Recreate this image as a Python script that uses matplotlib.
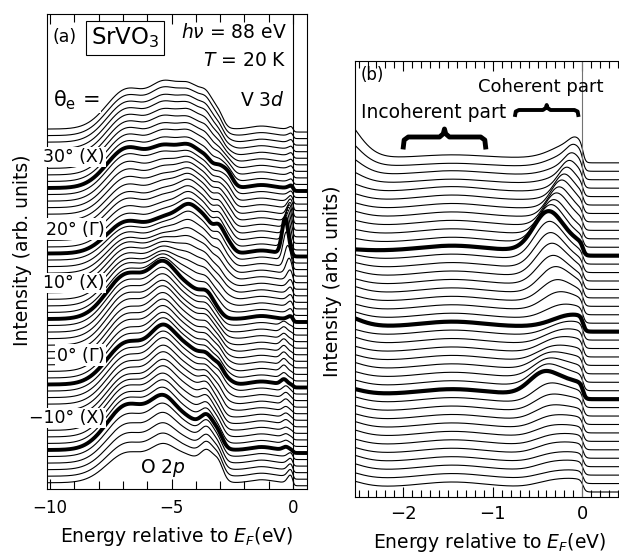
import numpy as np
import matplotlib.pyplot as plt
from matplotlib.ticker import MultipleLocator

plt.rcParams['font.family'] = ['DejaVu Sans']
plt.rcParams['mathtext.fontset'] = 'dejavusans'

# ---------------- panel (a): SrVO3 wide EDCs, theta_e = -15 .. 39 deg ----------------
theta_a = list(range(-15, 40))
thick_a = [30, 20, 10, 0, -10]
# heights (px) of the O 2p sub-bands at -6.8, -5.3, -4.2, -3.5, -3.05, -2.7 eV
amp_o1 = [30, 33, 36, 39, 42, 45, 45, 44, 44, 43, 42, 42, 42, 42, 42,
          42, 43, 43, 44, 44, 44, 45, 45, 45, 45, 45, 43, 42, 40, 39,
          38, 37, 35, 34, 33, 32, 33, 34, 35, 35, 36, 37, 38, 39, 40,
          40, 40, 40, 40, 40, 40, 40, 40, 40, 40]
amp_o2 = [30, 33, 36, 39, 41, 42, 43, 44, 44, 45, 45, 46, 46, 47, 47,
          47, 47, 46, 46, 46, 46, 46, 45, 45, 45, 45, 42, 39, 36, 34,
          32, 30, 28, 27, 26, 25, 26, 26, 27, 27, 28, 28, 29, 29, 30,
          30, 31, 32, 32, 33, 33, 34, 34, 35, 35]
amp_o3 = [22, 23, 24, 25, 25, 25, 26, 27, 28, 29, 30, 30, 30, 30, 30,
          30, 30, 29, 29, 28, 28, 28, 27, 27, 26, 26, 28, 30, 32, 34,
          36, 38, 40, 42, 44, 45, 44, 44, 43, 43, 42, 41, 40, 39, 38,
          38, 38, 39, 39, 39, 40, 40, 40, 40, 40]
amp_o4 = [22, 23, 23, 24, 24, 23, 22, 21, 21, 20, 20, 19, 18, 17, 16,
          16, 16, 16, 16, 16, 16, 16, 15, 15, 15, 15, 15, 14, 14, 14,
          14, 14, 13, 13, 12, 12, 12, 12, 12, 12, 12, 12, 12, 12, 12,
          12, 13, 14, 15, 16, 16, 17, 17, 18, 18]
amp_o5 = [14, 13, 12, 11, 10, 10, 9, 9, 8, 8, 8, 9, 10, 11, 12,
          12, 11, 10, 10, 9, 8, 7, 6, 5, 4, 3, 5, 6, 8, 9,
          10, 12, 14, 16, 17, 18, 18, 17, 17, 16, 16, 15, 14, 13, 12,
          12, 12, 12, 11, 11, 11, 10, 10, 10, 10]
amp_o6 = [0, 0, 0, 0, 0, 0, 0, 0, 0, 0, 0, 1, 2, 3, 4,
          4, 4, 3, 3, 2, 2, 1, 1, 0, 0, 0, 1, 2, 3, 4,
          4, 6, 7, 8, 9, 10, 10, 11, 11, 11, 12, 12, 13, 13, 14,
          14, 12, 10, 8, 6, 4, 3, 2, 1, 0]
# V 3d coherent peak: height (px) and energy (eV)
amp_v3d = [8, 7, 6, 5, 4, 3, 3, 3, 3, 4, 4, 4, 5, 5, 5,
           5, 5, 6, 6, 6, 6, 6, 5, 5, 4, 3, 4, 5, 5, 6,
           7, 10, 15, 21, 28, 35, 32, 28, 24, 20, 16, 12, 9, 6, 4,
           3, 3, 3, 3, 3, 3, 3, 3, 3, 3]
pos_v3d = [-0.1, -0.1, -0.1, -0.1, -0.1, -0.3, -0.3, -0.3, -0.3, -0.3, -0.3, -0.3, -0.3, -0.3, -0.3,
           -0.38, -0.38, -0.38, -0.38, -0.38, -0.38, -0.38, -0.38, -0.38, -0.38, -0.1, -0.1, -0.1, -0.1, -0.1,
           -0.1, -0.12, -0.16, -0.22, -0.28, -0.33, -0.3, -0.26, -0.22, -0.18, -0.15, -0.12, -0.1, -0.08, -0.06,
           -0.05, -0.05, -0.05, -0.05, -0.05, -0.05, -0.05, -0.05, -0.05, -0.05]
o2p_pos = [-6.8, -5.3, -4.2, -3.5, -3.05, -2.7]
o2p_wid = [0.85, 0.55, 0.55, 0.28, 0.2, 0.22]

# ---------------- panel (b): near-E_F EDCs, 40 spectra ----------------
n_b = 40
thick_b = [11, 19, 28]
amp_left = [9, 9, 10, 10, 9, 9, 10, 10, 9, 9, 9, 8, 9, 9, 10, 9, 9, 10, 9, 13,
            10, 9, 9, 10, 9, 9, 8, 7, 2, 6, 7, 8, 9, 9, 10, 12, 17, 24, 33, 45]
amp_inc = [5] * 36 + [4, 4, 3, 3]
amp_coh = [3, 3, 4, 4, 5, 5, 6, 7, 9, 11, 14, 19, 17, 14, 11, 8, 6, 4, 2, 0,
           5, 10, 15, 20, 24, 28, 31, 34, 36, 34, 30, 27, 24, 21, 18, 15, 12, 10, 8, 6]
pos_coh = [-0.4] * 11 + [-0.44, -0.42, -0.41, -0.4, -0.38, -0.36, -0.34, -0.32, -0.3,
           -0.3, -0.31, -0.32, -0.33, -0.35, -0.36, -0.37, -0.38, -0.39,
           -0.36, -0.33, -0.30, -0.27, -0.24, -0.21, -0.18, -0.15, -0.12, -0.10, -0.08]
wid_coh = [0.16] * 29 + [0.15, 0.14, 0.13, 0.12, 0.11, 0.10, 0.09, 0.085, 0.08, 0.075, 0.07]
amp_ef = [8, 8, 9, 9, 10, 10, 10, 11, 11, 12, 12, 12, 12, 12, 12, 12, 13, 13, 13, 12,
          11, 11, 10, 10, 9, 9, 8, 8, 8, 7, 7, 8, 8, 9, 9, 10, 11, 12, 14, 15]


def gauss(e, c, w):
    return np.exp(-(e - c) ** 2 / (2 * w ** 2))


def fermi(e, w, mu=0.0):
    return 1.0 / (1.0 + np.exp((e - mu) / w))


def brace(ax, x0, x1, y, h, hc, lw):
    w = x1 - x0
    xm = (x0 + x1) / 2
    xs = [x0, x0 + 0.01 * w, x0 + 0.06 * w, xm - 0.06 * w, xm - 0.015 * w, xm,
          xm + 0.015 * w, xm + 0.06 * w, x1 - 0.06 * w, x1 - 0.01 * w, x1]
    ys = [y - h, y - 0.3 * h, y, y, y + 0.4 * hc, y + hc, y + 0.4 * hc, y, y, y - 0.3 * h, y - h]
    ax.plot(xs, ys, color='k', lw=lw, solid_joinstyle='round', clip_on=False, zorder=5)


fig = plt.figure(figsize=(6.19, 5.56), dpi=100)
fs = 13.5

# ---------- (a) ----------
ax1 = fig.add_axes([47 / 619, 1 - 489 / 556, 260 / 619, 475 / 556])
e_a = np.linspace(-10.2, 0.7, 1500)
for k, th in enumerate(theta_a):
    off = 36 + (th + 10) * 6.55
    amps = [amp_o1[k], amp_o2[k], amp_o3[k], amp_o4[k], amp_o5[k], amp_o6[k]]
    spec = sum(a * gauss(e_a, c, w) for a, c, w in zip(amps, o2p_pos, o2p_wid))
    spec = spec + (3 + 3 * gauss(e_a, -1.3, 0.45) + amp_v3d[k] * gauss(e_a, pos_v3d[k], 0.13)) * fermi(e_a, 0.035)
    if th in thick_a:
        ax1.plot(e_a, off + spec, color='k', lw=2.8, zorder=3)
    else:
        ax1.plot(e_a, off + spec, color='k', lw=0.8, zorder=2)
ax1.axvline(0, color='k', lw=0.8)
ax1.set_xlim(-10.12, 0.57)
ax1.set_ylim(0, 475)
ax1.set_yticks([])
ax1.xaxis.set_major_locator(MultipleLocator(5))
ax1.xaxis.set_minor_locator(MultipleLocator(1))
ax1.tick_params(axis='x', which='both', direction='in', top=True, labelsize=12, pad=7)
ax1.tick_params(axis='x', which='major', length=7, width=0.8)
ax1.tick_params(axis='x', which='minor', length=6, width=0.8)

box = dict(facecolor='white', edgecolor='none', pad=1)
ax1.text(-9.88, 452, '(a)', fontsize=12.5, ha='left', va='center')
ax1.text(-6.91, 451, 'SrVO$_3$', fontsize=16.5, ha='center', va='center',
         bbox=dict(facecolor='white', edgecolor='k', lw=0.8, pad=3.5))
ax1.text(-0.25, 456, r'$h\nu$ = 88 eV', fontsize=fs, ha='right', va='center')
ax1.text(-0.25, 428, r'$T$ = 20 K', fontsize=fs, ha='right', va='center')
ax1.text(-9.88, 389, r'$\mathrm{\theta}_{\rm e}$ =', fontsize=15, ha='left', va='center', bbox=box, zorder=6)
ax1.text(-0.33, 389, r'V 3$d$', fontsize=fs, ha='right', va='center')
ax1.text(-5.35, 21, r'O 2$p$', fontsize=fs, ha='center', va='center')
for lab, yy in [('30° (X)', 332), ('20° ($\\Gamma$)', 260), ('10° (X)', 206),
                ('0° ($\\Gamma$)', 134), ('−10° (X)', 71)]:
    ax1.text(-7.74, yy, lab, fontsize=12.5, ha='right', va='center', bbox=box,
             zorder=6, clip_on=False)

# ---------- (b) ----------
ax2 = fig.add_axes([355 / 619, 1 - 497 / 556, 272 / 619, 436 / 556])
e_b = np.linspace(-2.6, 0.6, 1500)
for i in range(n_b):
    off = 5 + 8.44 * i
    spec = (5 + amp_left[i] * gauss(e_b, -2.75, 0.22) + amp_inc[i] * gauss(e_b, -1.45, 0.35)
            + amp_coh[i] * gauss(e_b, pos_coh[i], wid_coh[i])
            + amp_ef[i] * gauss(e_b, -0.1, 0.22)) * fermi(e_b, 0.015, 0.01)
    if i in thick_b:
        ax2.plot(e_b, off + spec, color='k', lw=3.0, zorder=3)
    else:
        ax2.plot(e_b, off + spec, color='k', lw=0.8, zorder=2)
ax2.axvline(0, color='0.45', lw=0.8)
ax2.set_xlim(-2.54, 0.5)
ax2.set_ylim(0, 436)
ax2.set_yticks([])
ax2.xaxis.set_major_locator(MultipleLocator(1))
ax2.xaxis.set_minor_locator(MultipleLocator(0.1))
ax2.tick_params(axis='x', which='both', direction='in', top=True, labelsize=13, pad=6)
ax2.tick_params(axis='x', which='major', length=7, width=0.8)
ax2.tick_params(axis='x', which='minor', length=5, width=0.8)

ax2.text(-2.48, 422, '(b)', fontsize=12, ha='left', va='center')
ax2.text(-1.16, 410, 'Coherent part', fontsize=13, ha='left', va='center', clip_on=False)
ax2.text(-2.47, 385, 'Incoherent part', fontsize=fs, ha='left', va='center')
brace(ax2, -2.0, -1.08, 360, 10, 8, 3.5)
brace(ax2, -0.75, -0.045, 387, 5, 5, 2.8)

fig.text(23 / 619, 1 - 250 / 556, 'Intensity (arb. units)', rotation=90, fontsize=fs,
         ha='center', va='center')
fig.text(333 / 619, 1 - 281 / 556, 'Intensity (arb. units)', rotation=90, fontsize=fs,
         ha='center', va='center')
fig.text(177 / 619, 1 - 537 / 556, r'Energy relative to $E_F$(eV)', fontsize=fs,
         ha='center', va='center')
fig.text(490 / 619, 2 / 556, r'Energy relative to $E_F$(eV)', fontsize=fs,
         ha='center', va='bottom')

fig.savefig('out.png', dpi=100)
